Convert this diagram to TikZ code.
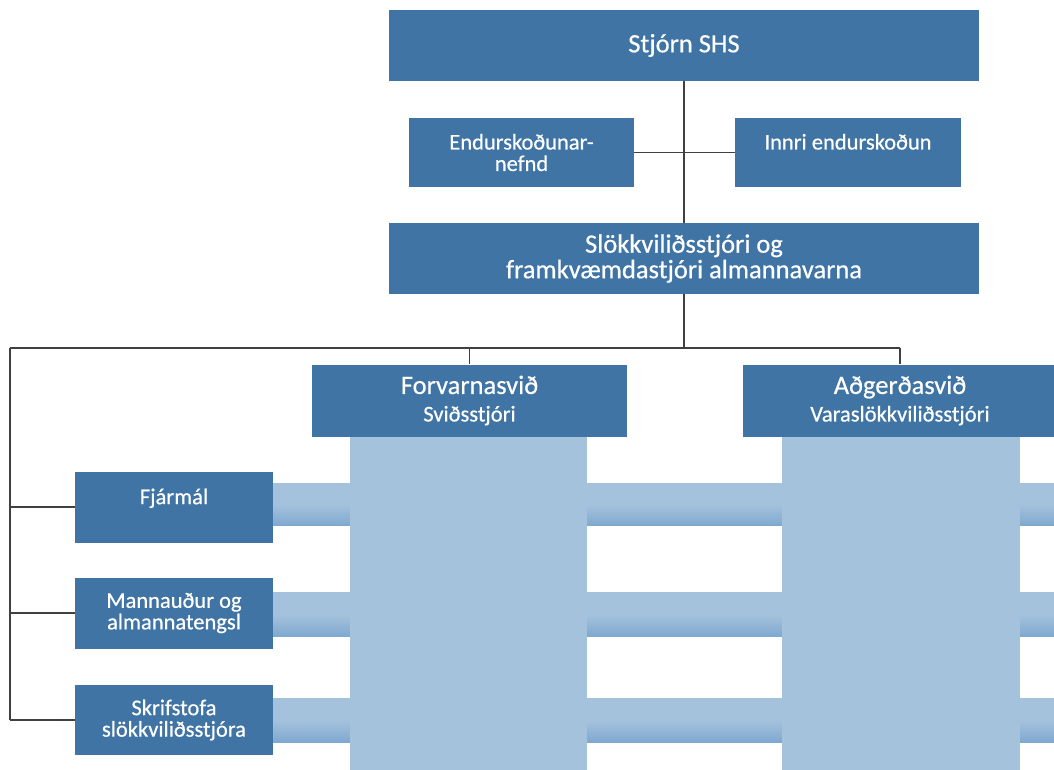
\documentclass[tikz,border=0pt]{standalone}
\usepackage{fontspec}
\setmainfont{Carlito}[FakeBold=0.5]
\definecolor{boxblue}{HTML}{3F74A5}
\definecolor{colblue}{HTML}{A5C2DC}
\definecolor{bardark}{HTML}{80A9D0}
\definecolor{linegray}{HTML}{404040}
\tikzset{
  dbox/.style={fill=boxblue, text=white, inner sep=0pt, align=center, font=\fontsize{22.5}{21.5}\selectfont},
  bigbox/.style={dbox, font=\fontsize{26.5}{25.5}\selectfont},
  conn/.style={draw=linegray, line width=1.3pt},
  col/.style={fill=colblue},
  bar/.style={top color=colblue, bottom color=bardark, middle color=colblue}
}
\begin{document}
\begin{tikzpicture}[x=1pt,y=-1pt]
\useasboundingbox (0,0) rectangle (1054,769);
\clip (0,0) rectangle (1054,769);
% bars
\shade[bar] (273,483) rectangle (1060,525);
\shade[bar] (273,592) rectangle (1060,636);
\shade[bar] (273,698) rectangle (1060,742);
% columns
\fill[col] (350,436) rectangle (587,775);
\fill[col] (782,436) rectangle (1020,775);
% boxes
\node[bigbox, minimum width=590pt, minimum height=71pt] (stjorn) at (684,45.5) {Stjórn SHS};
\node[dbox, minimum width=225pt, minimum height=69pt] (endur) at (521.5,152.5) {Endurskoðunar-\\nefnd};
\node[dbox, minimum width=226pt, minimum height=69pt] (innri) at (848,152.5) {Innri endurskoðun\\\phantom{nefnd}};
\node[bigbox, minimum width=590pt, minimum height=71pt] (slokk) at (684,258.5) {Slökkviliðsstjóri og\\framkvæmdastjóri almannavarna};
\node[bigbox, minimum width=315pt, minimum height=72pt] (forv) at (469.5,400.5) {Forvarnasvið\\[2pt]{\fontsize{22.5}{21.5}\selectfont Sviðsstjóri}};
\node[bigbox, minimum width=314pt, minimum height=72pt] (adger) at (900,400.5) {Aðgerðasvið\\[2pt]{\fontsize{22.5}{21.5}\selectfont Varaslökkviliðsstjóri}};
\node[dbox, minimum width=198pt, minimum height=71pt] (fjar) at (174,507) {Fjármál\\[-4pt]\phantom{g}};
\node[dbox, minimum width=198pt, minimum height=71pt] (mann) at (174,613) {Mannauður og\\almannatengsl};
\node[dbox, minimum width=198pt, minimum height=70pt] (skrif) at (174,720) {Skrifstofa\\slökkviliðsstjóra};
% connectors
\coordinate (lt) at (10,348);
\coordinate (rt) at (900,348);
\draw[conn] (stjorn.south) -- (slokk.north);
\draw[conn] (endur.east) -- (innri.west);
\draw[conn] (slokk.south) -- (slokk.south |- lt);
\draw[conn] (lt) -- (rt);
\draw[conn] (forv.north) -- (forv.north |- lt);
\draw[conn] (adger.north) -- (rt);
\draw[conn] (lt) -- (lt |- skrif.west);
\draw[conn] (fjar.west) -- (fjar.west -| lt);
\draw[conn] (mann.west) -- (mann.west -| lt);
\draw[conn] (skrif.west) -- (skrif.west -| lt);
\end{tikzpicture}
\end{document}
